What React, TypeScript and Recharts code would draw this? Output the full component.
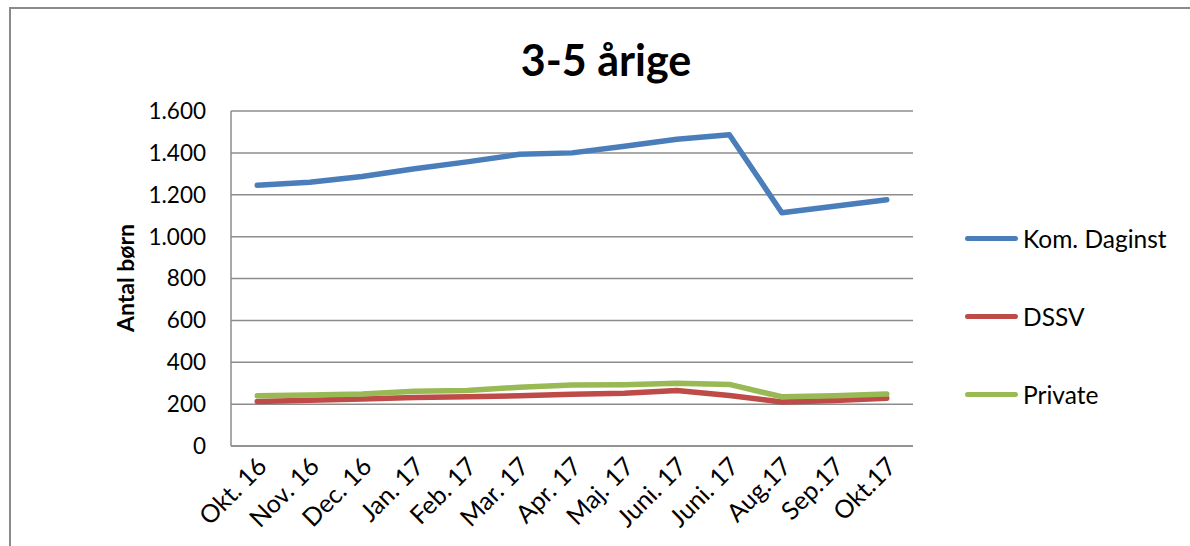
import { CartesianGrid, Legend, Line, LineChart, XAxis, YAxis } from 'recharts'

const months = [
  'Okt. 16', 'Nov. 16', 'Dec. 16', 'Jan. 17', 'Feb. 17', 'Mar. 17', 'Apr. 17',
  'Maj. 17', 'Juni. 17', 'Juni. 17', 'Aug.17', 'Sep.17', 'Okt.17',
]
const komDaginst = [1245, 1260, 1287, 1324, 1357, 1393, 1400, 1432, 1465, 1487, 1114, 1145, 1176]
const dssv = [213, 218, 224, 232, 235, 240, 247, 252, 265, 241, 210, 217, 228]
const privateInst = [240, 243, 248, 261, 265, 281, 291, 293, 300, 294, 235, 240, 248]
const yTicks = [0, 200, 400, 600, 800, 1000, 1200, 1400, 1600]

const series = [
  { key: 'kom', name: 'Kom. Daginst', color: '#4a7ebb' },
  { key: 'dssv', name: 'DSSV', color: '#be4b48' },
  { key: 'priv', name: 'Private', color: '#98b954' },
]

const data = months.map((m, i) => ({
  id: i,
  month: m,
  kom: komDaginst[i],
  dssv: dssv[i],
  priv: privateInst[i],
}))

const FONT = 'Lato, "Noto Sans", sans-serif'
const GRID = '#8c8c8c'

const fmt = (v: number) => String(v).replace(/\B(?=(\d{3})+(?!\d))/g, '.')

function MonthTick(props: any) {
  const { x, y, payload } = props
  const px = x + 11
  const py = y + 22
  return (
    <text
      x={px}
      y={py}
      transform={`rotate(-45, ${px}, ${py})`}
      textAnchor="end"
      fill="#000"
      fontSize={25}
      fontFamily={FONT}
    >
      {months[payload.value]}
    </text>
  )
}

function LegendBox() {
  return (
    <div style={{ fontFamily: FONT }}>
      {series.map((s) => (
        <div key={s.key} style={{ display: 'flex', alignItems: 'center', height: 78 }}>
          <div style={{ width: 53, height: 5, borderRadius: 3, background: s.color, marginRight: 5 }} />
          <span style={{ fontSize: 24.5, color: '#000' }}>{s.name}</span>
        </div>
      ))}
    </div>
  )
}

export default function App() {
  return (
    <div style={{ position: 'absolute', left: 0, top: 0, width: 1190, height: 546, overflow: 'hidden', background: '#fff' }}>
      <div
        style={{
          position: 'absolute',
          left: 9,
          top: 7,
          width: 1200,
          height: 600,
          border: '2px solid #8a8a8a',
          boxSizing: 'border-box',
        }}
      />
      <div
        style={{
          position: 'absolute',
          left: 406,
          width: 400,
          top: 33,
          textAlign: 'center',
          fontFamily: FONT,
          fontWeight: 700,
          fontSize: 43,
          lineHeight: '54px',
          color: '#000',
        }}
      >
        3-5 årige
      </div>
      <div
        style={{
          position: 'absolute',
          left: 125 - 100,
          top: 278 - 14,
          width: 200,
          height: 28,
          lineHeight: '28px',
          textAlign: 'center',
          transform: 'rotate(-90deg)',
          fontFamily: FONT,
          fontWeight: 700,
          fontSize: 23,
          color: '#000',
        }}
      >
        Antal børn
      </div>
      <div style={{ position: 'absolute', left: 0, top: 0 }}>
        <LineChart
          width={1190}
          height={546}
          data={data}
          margin={{ top: 111, right: 277, bottom: 0, left: 151 }}
        >
          <CartesianGrid vertical={false} stroke={GRID} strokeWidth={1.5} />
          <XAxis
            dataKey="id"
            type="category"
            scale="band"
            axisLine={{ stroke: GRID, strokeWidth: 1.5 }}
            tickLine={false}
            tickSize={0}
            tickMargin={0}
            interval={0}
            height={100}
            tick={<MonthTick />}
          />
          <YAxis
            domain={[0, 1600]}
            ticks={yTicks}
            width={80}
            interval={0}
            axisLine={{ stroke: GRID, strokeWidth: 1.5 }}
            tickLine={false}
            tickSize={0}
            tickMargin={25}
            tickFormatter={fmt}
            tick={{ fill: '#000', fontSize: 22.5, fontFamily: FONT }}
          />
          <Legend
            layout="vertical"
            align="center"
            verticalAlign="middle"
            content={<LegendBox />}
            wrapperStyle={{ position: 'absolute', left: 965, top: 199, width: 225 }}
          />
          {series.map((s) => (
            <Line
              key={s.key}
              type="linear"
              dataKey={s.key}
              name={s.name}
              stroke={s.color}
              strokeWidth={5.5}
              strokeLinecap="round"
              strokeLinejoin="round"
              dot={false}
              activeDot={false}
              isAnimationActive={false}
            />
          ))}
        </LineChart>
      </div>
    </div>
  )
}
